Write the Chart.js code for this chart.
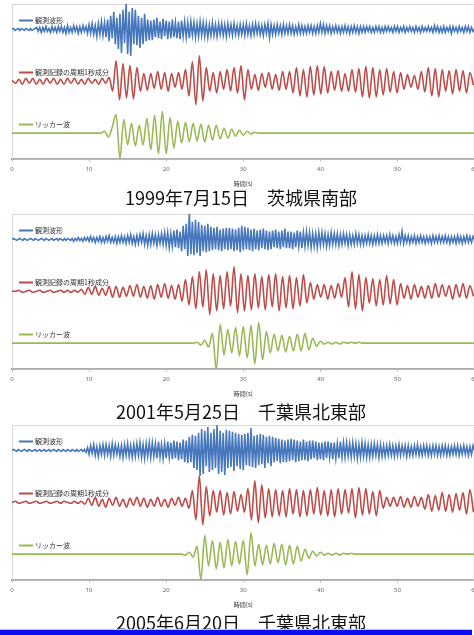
<!DOCTYPE html>
<html lang="ja">
<head>
<meta charset="utf-8">
<title>観測波形とリッカー波</title>
<script src="https://cdn.jsdelivr.net/npm/chart.js@4.4.1/dist/chart.umd.min.js"></script>
<style>
  body { margin: 0; background: #fff; }
  #page { position: relative; width: 474px; height: 635px; overflow: hidden; font-family: "Noto Sans CJK JP", sans-serif; }
  .panel { position: absolute; left: 0; width: 482px; height: 192px; }
  .caption { position: absolute; left: 0; width: 482px; text-align: center; font-size: 18px; line-height: 22px; color: #111; }
  #band { position: absolute; left: 0; top: 629px; width: 472px; height: 6px; background: #0b0bf5; border-top: 1px solid #c8c8d8; }
</style>
</head>
<body>
<div id="page">
  <div class="panel" style="top:0px"><canvas id="c0" width="482" height="192"></canvas></div>
  <div class="caption" id="t0" style="top:186px"></div>
  <div class="panel" style="top:210px"><canvas id="c1" width="482" height="192"></canvas></div>
  <div class="caption" id="t1" style="top:400px"></div>
  <div class="panel" style="top:421px"><canvas id="c2" width="482" height="192"></canvas></div>
  <div class="caption" id="t2" style="top:611px"></div>
  <div id="band"></div>
</div>
<script>
// 事象名
const eventNames = ['1999年7月15日　茨城県南部', '2001年5月25日　千葉県北東部', '2005年6月20日　千葉県北東部'];
const traceNames = ['観測波形', '観測記録の周期1秒成分', 'リッカー波'];
const timeTicks = [0, 10, 20, 30, 40, 50, 60];
const axisTitle = '時間(s)';

// サンプル間隔 (s)
const dtObs = 0.2;
const dtOneSec = 0.45;
const dtRicker = 0.5;

// 1999 茨城県南部 : 観測波形 (1行 = 2秒)
const obs1999 = [
  0,1,-1,0,1,-1,1,0,-1,1,
  0,-1,1,-1,0,1,2,-2,2,-3,
  2,-2,3,-2,1,-3,3,-2,2,-3,
  3,-2,3,-3,2,-4,4,-3,2,-3,
  4,-2,3,-4,3,-3,4,-2,3,-4,
  5,-4,6,-5,4,-7,6,-5,8,-6,
  7,-8,10,-12,14,-9,18,-15,12,-20,
  16,-24,20,-14,26,-25,18,-27,22,-15,
  20,-16,14,-19,12,-15,16,-12,10,-11,
  9,-11,10,-8,12,-9,8,-10,11,-7,
  9,-10,8,-9,10,-8,7,-9,8,-10,
  9,-7,8,-8,7,-9,8,-6,7,-8,
  6,-7,8,-6,7,-7,6,-8,5,-6,
  7,-6,5,-7,6,-5,6,-6,5,-7,
  6,-5,5,-6,6,-5,4,-6,5,-5,
  5,-6,6,-5,4,-6,5,-5,6,-4,
  5,-5,4,-6,5,-4,6,-8,5,-5,
  4,-5,5,-4,4,-5,5,-4,4,-4,
  5,-4,4,-5,3,-4,5,-4,4,-4,
  3,-4,4,-3,4,-4,3,-4,4,-3,
  6,-3,5,-4,4,-3,4,-4,3,-3,
  4,-3,3,-4,3,-3,4,-3,3,-4,
  3,-3,4,-3,3,-4,3,-3,3,-3,
  3,-2,3,-3,2,-3,3,-2,3,-3,
  2,-3,3,-2,3,-2,2,-3,3,-2,
  3,-3,2,-2,3,-3,2,-2,3,-2,
  2,-3,3,-2,2,-3,3,-2,2,-2,
  3,-2,2,-3,4,-2,3,-3,2,-3,
  3,-3,2,-2,3,-4,3,-2,2,-3,
  3,-2,2,-3,3,-2,3,-3,2,-2,
  0
];
// 周期1秒成分 (1行 = 4.5秒)
const oneSec1999 = [
  1,-2,2,-3,3,-2,3,-3,2,-3,
  3,-2,3,-3,2,-3,3,-2,3,-3,
  2,-3,3,-2,2,-3,3,-2,4,-10,
  21,-19,18,-17,16,-18,14,-10,8,-9,
  8,-7,10,-8,9,-10,8,-6,9,-8,
  12,-15,20,-24,26,-20,14,-10,9,-12,
  10,-8,12,-10,14,-12,16,-19,12,-8,
  7,-9,8,-6,9,-8,7,-9,10,-8,
  10,-12,14,-15,12,-16,15,-14,16,-13,
  15,-12,10,-9,11,-10,8,-10,12,-11,
  13,-16,15,-17,14,-16,12,-14,13,-11,
  10,-12,9,-8,7,-6,6,-8,10,-11,
  14,-15,13,-16,12,-10,11,-13,12,-10,
  11,-12,9,-4
];
// リッカー波 (1行 = 5秒)
const ricker1999 = [
  0,0,0,0,0,0,0,0,0,0,
  0,0,0,0,0,0,0,0,0,0,
  0,0,0,0,2,-4,6,19,-26,14,
  -12,10,-13,8,-12,15,-17,18,-21,22,
  -21,16,-15,12,-10,11,-9,10,-8,9,
  -9,8,-7,8,-6,5,-5,4,-3,3,
  -2,2,-1,1,0,0,0,0,0,0,
  0,0,0,0,0,0,0,0,0,0,
  0,0,0,0,0,0,0,0,0,0,
  0,0,0,0,0,0,0,0,0,0,
  0,0,0,0,0,0,0,0,0,0,
  0,0,0,0,0,0,0,0,0,0,
  0
];

// 2001 千葉県北東部
const obs2001 = [
  0,1,0,-1,0,1,0,-1,1,0,
  -1,0,1,0,-1,1,0,-1,0,1,
  0,-1,1,0,-1,0,1,-1,0,1,
  -1,1,0,-1,1,-1,1,0,-1,1,
  -2,1,-1,2,-1,1,-2,2,-1,2,
  -2,3,-2,2,-3,2,-2,3,-3,2,
  -3,3,-2,4,-3,2,-3,3,-4,3,
  -3,4,-3,3,-4,4,-3,5,-4,3,
  -5,4,-4,5,-3,6,-5,4,-6,5,
  -5,6,-4,5,-6,5,-4,6,-5,7,
  -6,7,-8,6,-7,9,-8,10,-9,8,
  -12,14,-10,16,-17,27,-15,18,-16,20,
  -14,18,-17,15,-12,14,-13,16,-12,13,
  -11,12,-10,13,-11,10,-12,11,-10,12,
  -11,12,-10,11,-12,10,-11,12,-13,14,
  -11,13,-10,12,-11,10,-12,11,-10,9,
  -11,10,-9,11,-10,9,-11,8,-10,9,
  -8,10,-9,8,-10,9,-8,11,-9,8,
  -9,8,-10,7,-8,9,-7,8,-9,7,
  -7,8,-6,7,-8,6,-7,6,-8,7,
  -6,7,-5,6,-7,5,-6,7,-5,6,
  -5,6,-6,5,-5,6,-4,5,-6,5,
  -5,4,-5,6,-4,5,-5,4,-5,4,
  -4,5,-4,4,-5,4,-4,5,-4,4,
  -4,4,-3,4,-4,5,-3,4,-4,3,
  -4,5,-3,8,-4,4,-3,4,-4,3,
  -3,4,-4,3,-3,4,-3,3,-4,3,
  -3,3,-4,4,-3,3,-3,4,-3,3,
  -3,4,-3,3,-4,3,-3,3,-4,4,
  -3,3,-4,3,-3,4,-3,3,-3,3,
  0
];
const oneSec2001 = [
  0,0,1,-1,0,1,-1,0,1,-1,
  0,1,-1,0,1,-1,1,-1,1,-1,
  2,-3,4,-3,5,-4,3,-4,5,-6,
  5,-6,4,-5,6,-5,7,-6,5,-7,
  6,-8,7,-6,8,-7,6,-8,7,-10,
  12,-14,15,-18,20,-16,22,-24,18,-20,
  16,-18,20,-15,25,-22,18,-20,16,-19,
  18,-17,15,-19,17,-16,18,-20,15,-17,
  16,-18,14,-15,17,-12,9,-8,7,-6,
  7,-8,6,-7,8,-6,14,-16,20,-18,
  17,-20,14,-12,13,-15,12,-14,16,-13,
  12,-14,8,-7,6,-8,7,-6,5,-7,
  6,-7,8,-6,7,-5,6,-8,7,-6,
  8,-7,6,-5
];
const ricker2001 = [
  0,0,0,0,0,0,0,0,0,0,
  0,0,0,0,0,0,0,0,0,0,
  0,0,0,0,0,0,0,0,0,0,
  0,0,0,0,0,0,0,0,0,0,
  0,0,0,0,0,0,0,0,1,-2,
  3,-4,10,-27,19,-12,14,-10,16,-13,
  17,-15,18,-21,21,-17,12,-10,9,-8,
  8,-9,7,-8,9,-8,10,-7,5,-3,
  2,-1,1,-1,1,-1,1,0,1,0,
  1,0,0,0,0,0,0,0,0,0,
  0,0,0,0,0,0,0,0,0,0,
  0,0,0,0,0,0,0,0,0,0,
  0
];

// 2005 千葉県北東部
const obs2005 = [
  0,1,0,-1,1,0,-1,0,1,0,
  -1,1,0,-1,0,1,-1,0,1,-1,
  0,1,-1,0,1,-1,0,1,0,-1,
  1,0,-1,1,0,-1,1,0,-1,1,
  0,-1,1,-1,0,1,-1,1,-2,3,
  -4,5,-3,6,-5,4,-6,5,-4,6,
  -5,6,-4,5,-6,7,-5,6,-4,5,
  -6,5,-7,6,-5,7,-6,5,-7,6,
  -6,7,-5,8,-7,6,-8,7,-6,8,
  -7,8,-6,7,-8,9,-7,6,-8,7,
  -8,9,-7,8,-9,10,-8,9,-10,8,
  -9,11,-12,10,-13,14,-12,16,-18,15,
  -20,18,-26,22,-24,20,-16,24,-22,18,
  -20,22,-18,26,-24,20,-22,18,-25,21,
  -18,20,-17,19,-21,18,-16,17,-19,16,
  -20,17,-15,18,-16,23,-17,15,-18,16,
  -15,17,-14,16,-18,14,-13,15,-16,14,
  -12,13,-11,12,-13,11,-12,10,-12,11,
  -11,12,-10,11,-12,10,-11,9,-10,11,
  -10,9,-11,10,-9,10,-8,9,-10,8,
  -9,8,-10,9,-8,9,-7,8,-9,8,
  -8,7,-8,9,-7,8,-7,8,-6,7,
  -7,8,-6,7,-8,6,-7,8,-6,7,
  -7,6,-7,6,-6,7,-5,6,-7,6,
  -6,5,-6,5,-5,6,-5,5,-6,5,
  -5,6,-5,5,-4,5,-6,5,-5,4,
  -5,5,-4,6,-5,4,-5,5,-4,5,
  -5,4,-5,5,-4,5,-5,4,-5,5,
  -4,5,-5,4,-5,4,-4,5,-4,5,
  -5,4,-4,5,-4,4,-5,4,-4,5,
  0
];
const oneSec2005 = [
  0,1,-1,0,1,-1,0,1,-1,0,
  1,-1,0,1,-1,1,0,-1,1,-1,
  1,-2,4,-3,5,-4,3,-5,4,-3,
  5,-4,3,-5,4,-3,5,-4,4,-5,
  3,-4,5,-4,3,-5,4,-3,5,-4,
  4,-6,12,-18,27,-23,16,-14,12,-10,
  12,-13,10,-12,11,-9,8,-10,14,-18,
  22,-21,18,-16,14,-15,13,-14,12,-15,
  14,-12,13,-15,12,-14,13,-12,15,-13,
  12,-14,13,-15,14,-12,13,-11,14,-16,
  15,-13,14,-12,11,-14,12,-6,5,-4,
  5,-4,6,-5,4,-5,6,-4,5,-7,
  8,-9,7,-8,10,-9,8,-10,9,-8,
  10,-12,13,-10
];
const ricker2005 = [
  0,0,0,0,0,0,0,0,0,0,
  0,0,0,0,0,0,0,0,0,0,
  0,0,0,0,0,0,0,0,0,0,
  0,0,0,0,0,0,0,0,0,0,
  0,0,0,0,0,-1,2,-3,8,-26,
  19,-12,14,-15,12,-14,15,-12,13,-10,
  14,-21,22,-12,10,-11,9,-10,11,-9,
  10,-11,9,-10,8,-7,5,-4,3,-2,
  2,-1,1,-1,1,-1,1,0,1,0,
  0,0,0,0,0,0,0,0,0,0,
  0,0,0,0,0,0,0,0,0,0,
  0,0,0,0,0,0,0,0,0,0,
  0
];

const panels = [
  [obs1999, oneSec1999, ricker1999],
  [obs2001, oneSec2001, ricker2001],
  [obs2005, oneSec2005, ricker2005]
];

const traceColors = ['#4677bd', '#be4b48', '#98b954'];
const traceSteps = [dtObs, dtOneSec, dtRicker];
const traceBase = [-26, -79, -132];

// プロット枠
const framePlugin = {
  id: 'frame',
  beforeDatasetsDraw(chart) {
    const { ctx, chartArea: a } = chart;
    ctx.save();
    ctx.strokeStyle = '#d9d9d9';
    ctx.lineWidth = 1;
    ctx.strokeRect(a.left + 0.5, a.top + 0.5, a.width - 1, a.height);
    ctx.restore();
  }
};

// 凡例（各波形の上）
const keyPlugin = {
  id: 'traceKeys',
  afterDatasetsDraw(chart) {
    const { ctx, chartArea: a, scales } = chart;
    ctx.save();
    ctx.font = '7px "Noto Sans CJK JP"';
    ctx.textBaseline = 'middle';
    chart.data.datasets.forEach((ds, i) => {
      const y = Math.round(scales.y.getPixelForValue(traceBase[i]) - 9.5) + 0.5;
      ctx.strokeStyle = ds.borderColor;
      ctx.lineWidth = 2;
      ctx.beginPath();
      ctx.moveTo(a.left + 7, y);
      ctx.lineTo(a.left + 21, y);
      ctx.stroke();
      ctx.fillStyle = '#333';
      ctx.fillText(ds.label, a.left + 23, y);
    });
    ctx.restore();
  }
};

panels.forEach((traces, p) => {
  document.getElementById('t' + p).textContent = eventNames[p];

  const datasets = traces.map((amp, i) => ({
    label: traceNames[i],
    data: amp.map((v, k) => ({ x: k * traceSteps[i], y: v + traceBase[i] })),
    borderColor: traceColors[i],
    borderWidth: i === 0 ? 1.6 : 1.6,
    pointRadius: 0,
    tension: 0,
    cubicInterpolationMode: i === 0 ? 'default' : 'monotone',
    fill: false
  }));

  new Chart(document.getElementById('c' + p), {
    type: 'line',
    data: { datasets },
    options: {
      responsive: false,
      animation: false,
      events: [],
      layout: { padding: { left: 12, right: 0, top: 4, bottom: 5 } },
      plugins: {
        legend: { display: false },
        tooltip: { enabled: false }
      },
      scales: {
        x: {
          type: 'linear',
          min: 0,
          max: 60,
          afterBuildTicks: axis => { axis.ticks = timeTicks.map(v => ({ value: v })); },
          ticks: {
            font: { family: 'Noto Sans', size: 6 },
            color: '#666',
            padding: 4,
            maxRotation: 0
          },
          grid: { drawOnChartArea: false, tickLength: 3, color: '#bbb' },
          border: { color: '#8c8c8c', width: 2 },
          title: {
            display: true,
            text: axisTitle,
            font: { family: 'Noto Sans CJK JP', size: 6 },
            color: '#333',
            padding: { top: 3, bottom: 0 }
          }
        },
        y: {
          display: false,
          min: -158,
          max: 0
        }
      }
    },
    plugins: [framePlugin, keyPlugin]
  });
});
</script>
</body>
</html>
